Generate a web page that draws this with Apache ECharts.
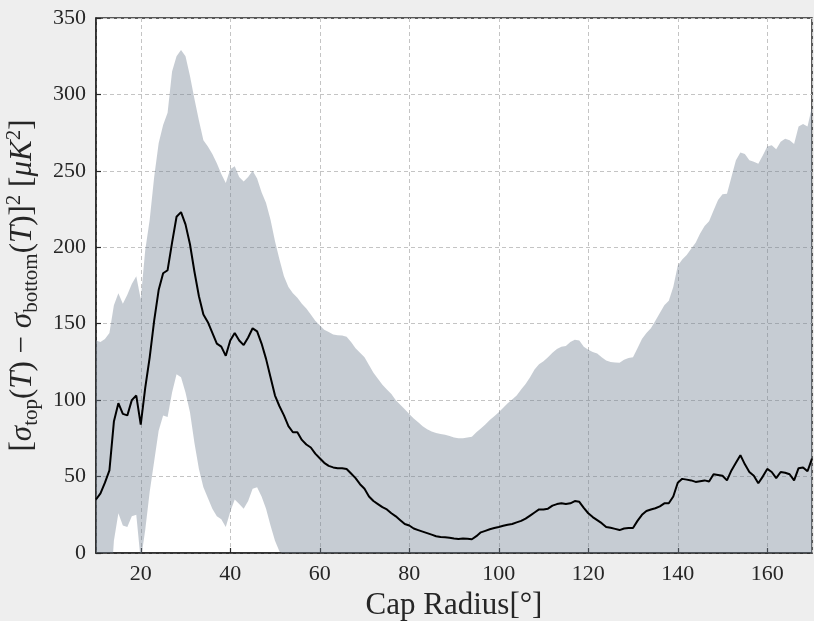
<!DOCTYPE html>
<html>
<head>
<meta charset="utf-8">
<script src="https://cdn.jsdelivr.net/npm/echarts@6/dist/echarts.min.js"></script>
<style>
  html, body { margin: 0; padding: 0; background: #eeeeee; }
  #chart { width: 814px; height: 621px; }
</style>
</head>
<body>
<div id="chart"></div>
<script>
// Cap radius grid in degrees (1° steps from 10° to 170°)
const capRadius = Array.from({ length: 161 }, (_, i) => 10 + i);

// Mean squared difference of the two hemisphere variances [μK²]
const meanDiff = [
  35, 39, 46, 54, 86, 98, 91, 90, 100, 103,          // 10-19
  84, 108, 128, 152, 172, 183, 185, 203, 220, 223,   // 20-29
  215, 202, 184, 168, 156, 151, 144, 137, 135, 129,  // 30-39
  139, 144, 139, 136, 141, 147, 145, 137, 127, 115,  // 40-49
  103, 96, 90, 83, 79, 79, 74, 71, 69, 65,           // 50-59
  62, 59, 57, 56, 55.5, 55.5, 55, 52, 49, 45,        // 60-69
  42, 37, 34, 32, 30, 28.5, 26, 24, 21.5, 19,        // 70-79
  18, 16, 15, 14, 13, 12, 11, 10.5, 10.3, 10,        // 80-89
  9.5, 9.2, 9.5, 9.3, 9, 11, 13.5, 14.5, 15.5, 16.3, // 90-99
  17, 17.8, 18.5, 19, 20, 21, 22.5, 24.5, 26.5, 28.5,// 100-109
  28.5, 29, 31, 32, 32.5, 32, 32.5, 34, 33.5, 29.5,  // 110-119
  26, 23.5, 21.5, 19.5, 17, 16.5, 15.8, 15, 16, 16.3,// 120-129
  16.3, 21, 25, 27.5, 28.5, 29.3, 30.5, 32.5, 32.5, 37, // 130-139
  46, 48.5, 48, 47.5, 46.5, 47, 47.5, 46.8, 51.5, 51, // 140-149
  50.5, 47.5, 54, 59, 64, 58, 53, 50.5, 45.6, 50,    // 150-159
  55, 53, 49, 53, 52.5, 51.5, 47.5, 55.5, 56, 53.5,  // 160-169
  61.7                                               // 170
];

// Upper edge of the spread band
const bandUpper = [
  139, 138, 140, 144, 162, 170, 163, 169, 176, 181,  // 10-19
  166, 198, 218, 246, 268, 280, 288, 315, 325, 329,  // 20-29
  325, 312, 297, 283, 270, 266, 261, 255, 248, 242,  // 30-39
  251, 253, 246, 243, 246, 250, 245, 236, 229, 218,  // 40-49
  204, 192, 181, 174, 170, 167, 163, 160, 156, 152,  // 50-59
  149, 146, 144.5, 143, 142.5, 142.3, 141.5, 138, 134, 131, // 60-69
  128, 123, 118, 114, 110, 107, 104, 100, 97, 94,    // 70-79
  91, 88, 85.5, 83, 81, 79.5, 78.5, 77.8, 77.3, 76.5,// 80-89
  75.5, 75, 75, 75.5, 76, 79, 81.5, 84, 87, 89.5,    // 90-99
  92, 95, 98, 100.5, 103, 107, 110.5, 115, 120, 123.5, // 100-109
  125.5, 128, 131, 133.5, 135, 135.5, 138, 139.5, 139, 135, // 110-119
  133, 131.5, 130.5, 128, 126, 125, 124.6, 124.4, 126.5, 127.5, // 120-129
  128, 134, 140, 144, 147, 152, 157, 162, 165, 174,  // 130-139
  188, 192, 195, 199, 203, 209, 214, 217, 224, 231,  // 140-149
  234.7, 235, 246, 257, 262, 261, 257, 256, 254.7, 260, // 150-159
  266, 266.8, 264.2, 269, 271, 270, 267.6, 279, 280.6, 279, // 160-169
  292                                                // 170
];

// Lower edge of the spread band (negative parts fall below the axis)
const bandLower = [
  -69, -60, -48, -36, 8, 26, 18, 17, 24, 25,         // 10-19
  -5, 15, 40, 60, 80, 90, 89, 105, 117, 115,         // 20-29
  105, 92, 72, 55, 43, 36, 29, 24, 22, 17,           // 30-39
  27, 35, 32, 29, 34, 42, 43, 37, 29, 18,            // 40-49
  8, 1, -1, -8, -12, -9, -15, -18, -18, -22,         // 50-59
  -25, -28, -30, -31, -31, -31, -31, -34, -36, -41,  // 60-69
  -44, -49, -50, -50, -50, -50, -52, -52, -54, -56,  // 70-79
  -55, -56, -55, -55, -55, -55, -56, -57, -57, -56,  // 80-89
  -56, -57, -56, -57, -58, -57, -55, -55, -56, -57,  // 90-99
  -58, -59, -61, -62, -63, -65, -66, -66, -67, -66,  // 100-109
  -68, -70, -69, -70, -70, -71, -73, -71, -72, -76,  // 110-119
  -81, -84, -87, -89, -92, -92, -93, -94, -94, -95,  // 120-129
  -95, -92, -90, -89, -90, -93, -96, -97, -100, -100,// 130-139
  -96, -95, -99, -104, -110, -115, -119, -123, -121, -129, // 140-149
  -134, -140, -138, -139, -134, -145, -151, -155, -164, -160, // 150-159
  -156, -161, -166, -163, -166, -167, -173, -168, -169, -172, // 160-169
  -169                                               // 170
];

// Y tick values
const yTicks = [0, 50, 100, 150, 200, 250, 300, 350];

const serif = '"Liberation Serif", "DejaVu Serif", serif';
const ink = '#262626';
const bandFill = 'rgba(112,128,144,0.4)';

const meanPts = capRadius.map((x, i) => [x, meanDiff[i]]);

// Band polygon: along the upper edge, then back along the lower edge,
// clipped to the plotting rectangle.
function renderBand(params, api) {
  const pts = [];
  for (let i = 0; i < capRadius.length; i++) {
    pts.push(api.coord([capRadius[i], bandUpper[i]]));
  }
  for (let i = capRadius.length - 1; i >= 0; i--) {
    pts.push(api.coord([capRadius[i], bandLower[i]]));
  }
  const cs = params.coordSys;
  return {
    type: 'group',
    clipPath: { type: 'rect', shape: { x: cs.x, y: cs.y, width: cs.width, height: cs.height } },
    children: [{ type: 'polygon', shape: { points: pts }, style: { fill: bandFill } }]
  };
}

const chart = echarts.init(document.getElementById('chart'), null, { renderer: 'canvas' });

chart.setOption({
  backgroundColor: '#eeeeee',
  animation: false,
  grid: {
    left: 96, right: 2, top: 18, bottom: 68,
    outerBoundsMode: 'none', containLabel: false,
    show: true, backgroundColor: '#ffffff',
    borderColor: ink, borderWidth: 1.5
  },
  xAxis: {
    type: 'value', min: 10, max: 170, splitNumber: 8,
    name: 'Cap Radius[°]', nameLocation: 'middle', nameGap: 34,
    nameTextStyle: { fontFamily: serif, fontSize: 31, color: ink },
    axisLine: { show: true, lineStyle: { color: ink, width: 1.5 } },
    axisTick: { show: true, inside: true, length: 5, lineStyle: { color: ink, width: 1.2 } },
    axisLabel: { showMinLabel: false, showMaxLabel: false, margin: 10,
      fontFamily: serif, fontSize: 22, color: ink },
    splitLine: { show: true, lineStyle: { color: '#c4c4c4', type: [4, 3], width: 1 } }
  },
  yAxis: {
    type: 'value', min: yTicks[0], max: yTicks[yTicks.length - 1], interval: yTicks[1] - yTicks[0],
    name: '{n|[}{i|σ}{s|top}{n|(}{i|T}{n|) − }{i|σ}{s|bottom}{n|(}{i|T}{n|)]}{p|2}{n| [}{i|μK}{p|2}{n|]}',
    nameLocation: 'middle', nameGap: 48, nameRotate: 90,
    nameTextStyle: {
      fontFamily: serif, color: ink,
      rich: {
        n: { fontFamily: serif, fontSize: 31, color: ink, lineHeight: 38, verticalAlign: 'middle' },
        i: { fontFamily: serif, fontSize: 31, fontStyle: 'italic', color: ink, lineHeight: 38, verticalAlign: 'middle' },
        s: { fontFamily: serif, fontSize: 21, color: ink, lineHeight: 16, verticalAlign: 'bottom' },
        p: { fontFamily: serif, fontSize: 21, color: ink, lineHeight: 16, verticalAlign: 'top' }
      }
    },
    axisLine: { show: true, lineStyle: { color: ink, width: 1.5 } },
    axisTick: { show: true, inside: true, length: 5, lineStyle: { color: ink, width: 1.2 } },
    axisLabel: { margin: 10, fontFamily: serif, fontSize: 22, color: ink },
    splitLine: { show: true, lineStyle: { color: '#c4c4c4', type: [4, 3], width: 1 } }
  },
  series: [
    {
      name: 'spread', type: 'custom', renderItem: renderBand,
      data: [[capRadius[0], bandUpper[0]]], silent: true, z: 1
    },
    {
      name: 'mean', type: 'line', data: meanPts,
      symbol: 'none', lineStyle: { color: '#000000', width: 2 }, z: 3
    }
  ]
});
</script>
</body>
</html>
